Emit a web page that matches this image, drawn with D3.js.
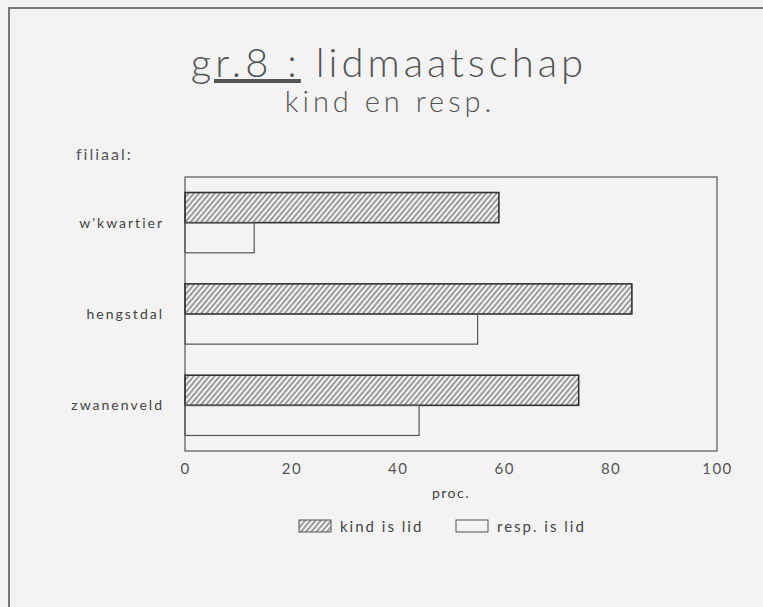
<!DOCTYPE html>
<html>
<head>
<meta charset="utf-8">
<script src="https://cdn.jsdelivr.net/npm/d3@7"></script>
<style>
  body { margin: 0; background: #f3f3f3; }
  text { font-family: Lato, "DejaVu Sans", sans-serif; fill: #444; }
</style>
</head>
<body>
<div class="container"></div>
<script>
const categories = ["w'kwartier", 'hengstdal', 'zwanenveld'];
const seriesNames = ['kind is lid', 'resp. is lid'];
const kindIsLid = [59, 84, 74];
const respIsLid = [13, 55, 44];
const xTicks = [0, 20, 40, 60, 80, 100];

const width = 763;
const height = 607;

const plotLeft = 185;
const plotRight = 717;
const plotTop = 177;
const plotBottom = 451;

const x = d3.scaleLinear().domain([0, 100]).range([plotLeft, plotRight]);
const y = d3.scaleBand().domain(categories).range([plotTop, plotBottom]).paddingInner(0.34).paddingOuter(0.17);
const ySub = d3.scaleBand().domain(seriesNames).range([0, y.bandwidth()]);

const svg = d3.select('.container')
  .append('svg')
  .attr('width', width)
  .attr('height', height);

svg.append('rect')
  .attr('width', width)
  .attr('height', height)
  .attr('fill', '#f3f3f3');

// hatch pattern
const defs = svg.append('defs');
defs.append('pattern')
  .attr('id', 'hatch')
  .attr('patternUnits', 'userSpaceOnUse')
  .attr('width', 4)
  .attr('height', 4)
  .attr('patternTransform', 'rotate(40)')
  .append('line')
  .attr('x1', 1).attr('y1', 0)
  .attr('x2', 1).attr('y2', 4)
  .attr('stroke', '#444')
  .attr('stroke-width', 1);

// page frame
svg.append('path')
  .attr('d', 'M9,607 L9,8 L763,8')
  .attr('fill', 'none')
  .attr('stroke', '#777')
  .attr('stroke-width', 2);

// title
const title = svg.append('text')
  .attr('x', 389)
  .attr('y', 77)
  .attr('text-anchor', 'middle')
  .style('font-size', '40px')
  .style('font-weight', 300)
  .style('letter-spacing', '4px')
  .style('fill', '#555');
title.append('tspan').text('gr.8 :').style('text-decoration', 'underline');
title.append('tspan').text(' lidmaatschap');

svg.append('text')
  .attr('x', 390)
  .attr('y', 112)
  .attr('text-anchor', 'middle')
  .style('font-size', '29px')
  .style('font-weight', 300)
  .style('letter-spacing', '4px')
  .style('fill', '#555')
  .text('kind en resp.');

svg.append('text')
  .attr('x', 76)
  .attr('y', 160)
  .style('font-size', '16px')
  .style('letter-spacing', '2px')
  .style('fill', '#555')
  .text('filiaal:');

// plot box
svg.append('rect')
  .attr('x', plotLeft)
  .attr('y', plotTop)
  .attr('width', plotRight - plotLeft)
  .attr('height', plotBottom - plotTop)
  .attr('fill', 'none')
  .attr('stroke', '#555')
  .attr('stroke-width', 1.2);

// bars
const groups = svg.append('g')
  .selectAll('g')
  .data(categories)
  .enter()
  .append('g')
  .attr('transform', (d) => `translate(0, ${y(d)})`);

groups.append('rect')
  .attr('x', x(0))
  .attr('y', ySub(seriesNames[0]))
  .attr('width', (d, i) => x(kindIsLid[i]) - x(0))
  .attr('height', ySub.bandwidth())
  .attr('fill', 'url(#hatch)')
  .attr('stroke', '#333')
  .attr('stroke-width', 1.6);

groups.append('rect')
  .attr('x', x(0))
  .attr('y', ySub(seriesNames[1]))
  .attr('width', (d, i) => x(respIsLid[i]) - x(0))
  .attr('height', ySub.bandwidth())
  .attr('fill', 'none')
  .attr('stroke', '#555')
  .attr('stroke-width', 1.2);

// category labels
svg.append('g')
  .selectAll('text')
  .data(categories)
  .enter()
  .append('text')
  .attr('x', 164)
  .attr('y', (d) => y(d) + y.bandwidth() / 2 + 5)
  .attr('text-anchor', 'end')
  .style('font-size', '14px')
  .style('letter-spacing', '2px')
  .text((d) => d);

// x axis
const xAxis = d3.axisBottom(x).tickValues(xTicks).tickSize(0).tickPadding(12);
const axisG = svg.append('g')
  .attr('transform', `translate(0, ${plotBottom})`)
  .call(xAxis);
axisG.select('.domain').remove();
axisG.selectAll('text')
  .style('font-size', '15px')
  .style('font-family', 'Lato, "DejaVu Sans", sans-serif')
  .style('fill', '#555')
  .style('letter-spacing', '1.5px');

svg.append('text')
  .attr('x', 451)
  .attr('y', 498)
  .attr('text-anchor', 'middle')
  .style('font-size', '14px')
  .style('letter-spacing', '1.5px')
  .text('proc.');

// legend
const legend = svg.append('g').attr('transform', 'translate(299, 520)');
const legendItems = [
  { name: seriesNames[0], fill: 'url(#hatch)', dx: 0 },
  { name: seriesNames[1], fill: 'none', dx: 157 },
];
legendItems.forEach((item) => {
  legend.append('rect')
    .attr('x', item.dx)
    .attr('y', 0)
    .attr('width', 32)
    .attr('height', 12)
    .attr('fill', item.fill)
    .attr('stroke', '#555')
    .attr('stroke-width', 1);
  legend.append('text')
    .attr('x', item.dx + 41)
    .attr('y', 12)
    .style('font-size', '15px')
    .style('letter-spacing', '2px')
    .text(item.name);
});
</script>
</body>
</html>
